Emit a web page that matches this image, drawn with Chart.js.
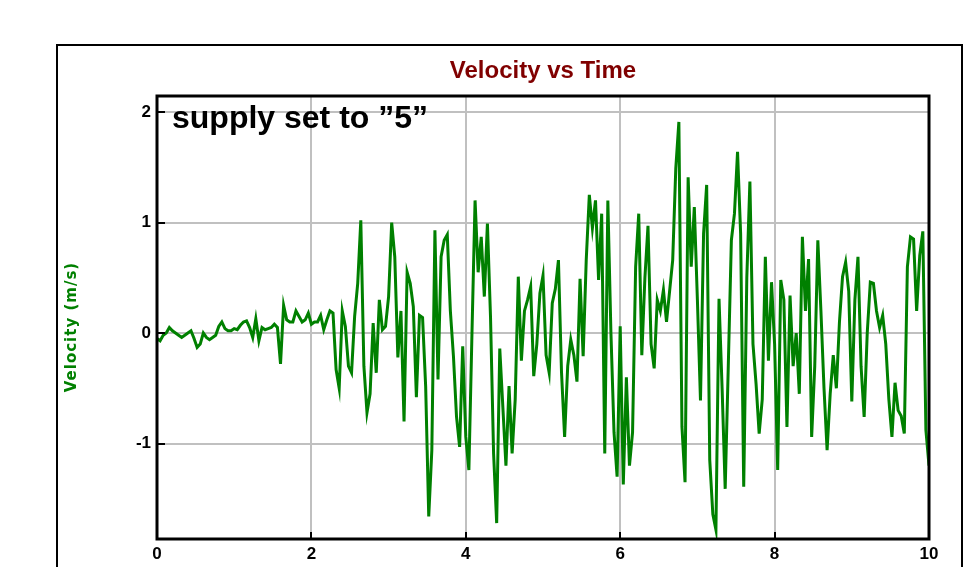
<!DOCTYPE html>
<html>
<head>
<meta charset="utf-8">
<title>Velocity vs Time</title>
<script src="https://cdn.jsdelivr.net/npm/chart.js@4.4.1/dist/chart.umd.min.js"></script>
<style>
    html, body { margin: 0; padding: 0; background: #fff; }
    #wrap { width: 973px; height: 567px; }
</style>
</head>
<body>
<div id="wrap"><canvas id="velocityChart" width="973" height="567"></canvas></div>
<script>
const sampleStep = 0.04;
const velocity = [
    -0.05, -0.07, -0.02, 0.0, 0.05, 0.02, 0.0, -0.02, -0.04, -0.02,
    0.0, 0.02, -0.05, -0.13, -0.1, 0.0, -0.04, -0.06, -0.04, -0.02,
    0.06, 0.1, 0.04, 0.02, 0.02, 0.04, 0.03, 0.07, 0.1, 0.11,
    0.05, -0.04, 0.13, -0.07, 0.05, 0.03, 0.04, 0.05, 0.08, 0.05,
    -0.28, 0.25, 0.12, 0.1, 0.1, 0.2, 0.15, 0.1, 0.12, 0.18,
    0.08, 0.1, 0.1, 0.16, 0.03, 0.12, 0.2, 0.18, -0.33, -0.5,
    0.2, 0.06, -0.3, -0.36, 0.15, 0.45, 1.02, -0.3, -0.72, -0.55,
    0.09, -0.36, 0.3, 0.03, 0.06, 0.33, 1.0, 0.69, -0.22, 0.2,
    -0.8, 0.55, 0.45, 0.24, -0.58, 0.16, 0.14, -0.48, -1.66, -1.06,
    0.93, -0.42, 0.69, 0.84, 0.89, 0.2, -0.21, -0.76, -1.03, -0.12,
    -0.94, -1.24, 0.0, 1.2, 0.55, 0.87, 0.33, 0.99, 0.15, -1.09,
    -1.72, -0.14, -0.67, -1.2, -0.48, -1.09, -0.6, 0.51, -0.25, 0.2,
    0.3, 0.42, -0.39, -0.1, 0.36, 0.52, -0.2, -0.36, 0.27, 0.4,
    0.66, -0.36, -0.94, -0.3, -0.06, -0.2, -0.44, 0.49, -0.21, 0.66,
    1.25, 0.95, 1.2, 0.48, 1.08, -1.09, 1.2, 0.0, -0.9, -1.3,
    0.06, -1.37, -0.4, -1.2, -0.9, 0.6, 1.08, -0.2, 0.5, 0.97,
    -0.1, -0.32, 0.3, 0.2, 0.39, 0.1, 0.38, 0.66, 1.49, 1.91,
    -0.85, -1.35, 1.41, 0.6, 1.14, 0.3, -0.61, 0.9, 1.34, -1.15,
    -1.64, -1.78, 0.31, -0.5, -1.41, -0.3, 0.84, 1.08, 1.64, 0.9,
    -1.39, 0.5, 1.37, -0.1, -0.46, -0.91, -0.6, 0.69, -0.25, 0.46,
    -0.1, -1.24, 0.48, 0.3, -0.85, 0.34, -0.3, 0.0, -0.55, 0.87,
    0.2, 0.67, -0.94, -0.3, 0.84, 0.2, -0.5, -1.06, -0.55, -0.2,
    -0.5, 0.1, 0.51, 0.64, 0.38, -0.62, 0.3, 0.69, -0.3, -0.76,
    0.0, 0.46, 0.45, 0.2, 0.05, 0.16, -0.1, -0.6, -0.94, -0.45,
    -0.7, -0.75, -0.91, 0.6, 0.87, 0.85, 0.2, 0.7, 0.92, -0.88,
    -1.2
];
const xTicks = [0, 2, 4, 6, 8, 10];
const yTicks = [-1, 0, 1, 2];

const chartTitle = 'Velocity vs Time';
const yTitle = 'Velocity (m/s)';
const note = 'supply set to \u201d5\u201d';

const points = velocity.map((v, i) => ({ x: +(i * sampleStep).toFixed(2), y: v }));

const tickFont = { family: 'Arial, "Liberation Sans", sans-serif', size: 17, weight: 'bold' };

// frame, inward tick marks and the free text
const decorations = {
    id: 'decorations',
    afterDraw(chart) {
        const { ctx, chartArea: a, scales } = chart;
        ctx.save();

        ctx.strokeStyle = '#000';
        ctx.lineWidth = 2;
        ctx.strokeRect(57, 45, 905, 560);

        ctx.lineWidth = 2;
        ctx.beginPath();
        yTicks.forEach(v => {
            const y = Math.round(scales.y.getPixelForValue(v));
            ctx.moveTo(a.left, y);
            ctx.lineTo(a.left + 8, y);
        });
        xTicks.forEach(v => {
            const x = Math.round(scales.x.getPixelForValue(v));
            ctx.moveTo(x, a.bottom);
            ctx.lineTo(x, a.bottom - 7);
        });
        ctx.stroke();

        ctx.lineWidth = 3;
        ctx.strokeRect(a.left, a.top, a.right - a.left, a.bottom - a.top);

        ctx.fillStyle = '#800000';
        ctx.font = 'bold 24px Arial, "Liberation Sans", sans-serif';
        ctx.textAlign = 'center';
        ctx.textBaseline = 'alphabetic';
        ctx.fillText(chartTitle, (a.left + a.right) / 2, 78);

        ctx.fillStyle = '#000';
        ctx.font = 'bold 32px Arial, "Liberation Sans", sans-serif';
        ctx.textAlign = 'left';
        ctx.fillText(note, 172, 128);

        ctx.translate(76, 327);
        ctx.rotate(-Math.PI / 2);
        ctx.fillStyle = '#008000';
        ctx.font = 'bold 15px "DejaVu Sans", sans-serif';
        ctx.letterSpacing = '1px';
        ctx.textAlign = 'center';
        ctx.fillText(yTitle, 0, 0);

        ctx.restore();
    }
};

const chart = new Chart(document.getElementById('velocityChart'), {
    type: 'line',
    data: {
        datasets: [{
            label: 'Velocity',
            data: points,
            borderColor: '#008000',
            borderWidth: 3,
            pointRadius: 0,
            tension: 0,
            fill: false
        }]
    },
    options: {
        responsive: false,
        animation: false,
        layout: { padding: { top: 96, right: 44, bottom: 0, left: 0 } },
        plugins: {
            legend: { display: false },
            title: { display: false },
            tooltip: { enabled: false }
        },
        scales: {
            x: {
                type: 'linear',
                min: 0,
                max: 10,
                afterBuildTicks: s => { s.ticks = xTicks.map(v => ({ value: v })); },
                afterFit: s => { s.height = 28; },
                ticks: { color: '#000', font: tickFont, padding: 5, maxRotation: 0 },
                grid: { color: '#c0c0c0', lineWidth: 2, drawTicks: false },
                border: { display: false }
            },
            y: {
                min: -1.864,
                max: 2.145,
                afterBuildTicks: s => { s.ticks = yTicks.map(v => ({ value: v })); },
                afterFit: s => { s.width = 157; },
                ticks: { color: '#000', font: tickFont, padding: 6 },
                grid: { color: '#c0c0c0', lineWidth: 2, drawTicks: false },
                border: { display: false }
            }
        }
    },
    plugins: [decorations]
});
</script>
</body>
</html>
